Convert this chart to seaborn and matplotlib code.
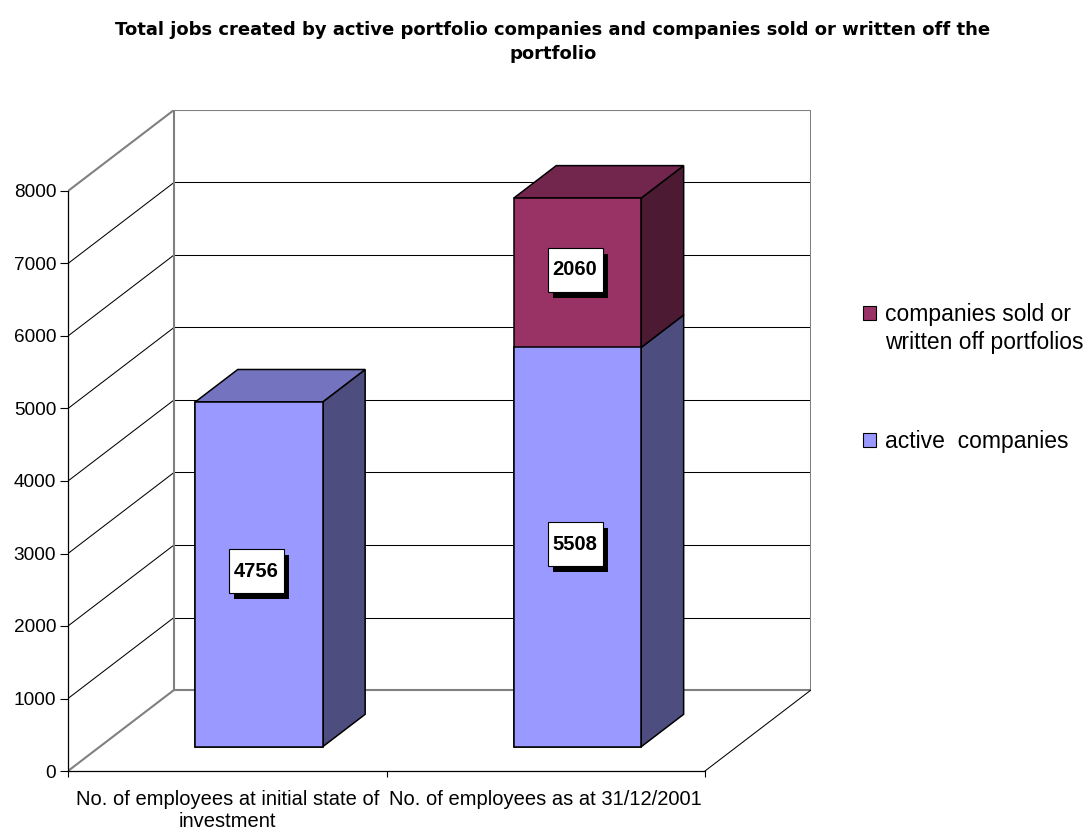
import matplotlib
matplotlib.use("Agg")
import matplotlib.pyplot as plt
import matplotlib.transforms as mtransforms
from matplotlib.patches import Polygon, Rectangle, Patch
import pandas as pd
import seaborn as sns

# ---- data -------------------------------------------------------------
categories = ["No. of employees at initial state of\ninvestment",
              "No. of employees as at 31/12/2001"]
active = [4756, 5508]
sold = [0, 2060]
series_labels = ["companies sold or\nwritten off portfolios", "active  companies"]
y_ticks = [0, 1000, 2000, 3000, 4000, 5000, 6000, 7000, 8000]
title = ("Total jobs created by active portfolio companies and companies sold or written off the\n"
         "portfolio")

# ---- styling ----------------------------------------------------------
BLUE, BLUE_TOP, BLUE_SIDE = "#9999FF", "#7373BF", "#4D4D80"
MAROON, MAROON_TOP, MAROON_SIDE = "#993366", "#73264D", "#4D1A33"
WALL = "#808080"

W, H, DPI = 1087, 834, 100
sns.set_theme(style="ticks")
plt.rcParams["font.family"] = ["Liberation Sans", "DejaVu Sans"]
plt.rcParams.update({"text.color": "black", "axes.labelcolor": "black",
                     "xtick.color": "black", "ytick.color": "black"})

# geometry of the pseudo-3D box (pixels)
X0, X1 = 68, 705          # front floor edge
Y0, Y8 = 771, 191         # front value 0 and value 8000
DEPTH_PX = (106, 81)      # shift of the back wall
px_per_cat = (X1 - X0) / len(categories)
px_per_val = (Y0 - Y8) / y_ticks[-1]
DX = DEPTH_PX[0] / px_per_cat
DY = DEPTH_PX[1] / px_per_val
F, B = 0.3, 0.7           # bar front / back depth fractions
BAR_W = 0.4

fig = plt.figure(figsize=(W / DPI, H / DPI), dpi=DPI)
fig.patch.set_facecolor("white")
ax_left, ax_right = X0, X1 + DEPTH_PX[0]
ax_top = Y8 - DEPTH_PX[1]
ax = fig.add_axes([ax_left / W, 1 - Y0 / H, (ax_right - ax_left) / W, (Y0 - ax_top) / H])
ax.set_facecolor("none")

df = pd.DataFrame({"category": categories, "active": active, "sold": sold})
df["total"] = df["active"] + df["sold"]

# front faces: totals in maroon, active companies drawn over them in blue
sns.barplot(data=df, x="category", y="total", color=MAROON, saturation=1,
            width=BAR_W, edgecolor="black", linewidth=1.1, ax=ax)
sns.barplot(data=df, x="category", y="active", color=BLUE, saturation=1,
            width=BAR_W, edgecolor="black", linewidth=1.1, ax=ax)

front = mtransforms.Affine2D().translate(F * DX, F * DY) + ax.transData
for p in ax.patches:
    p.set_transform(front)
    p.set_zorder(5)

xmin, xmax = -0.5, len(categories) - 0.5
ymax = y_ticks[-1]
ax.set_xlim(xmin, xmax + DX)
ax.set_ylim(0, ymax + DY)

# ---- walls and gridlines ----------------------------------------------
for v in y_ticks:
    edge = v in (0, ymax)
    col, lw = (WALL, 1.5) if edge else ("black", 0.75)
    # side wall
    ax.plot([xmin, xmin + DX], [v, v + DY], color=col, lw=lw, zorder=2,
            solid_capstyle="butt")
    # back wall
    ax.plot([xmin + DX, xmax + DX], [v + DY, v + DY], color=col, lw=lw, zorder=2 if edge else 1)
ax.plot([xmin + DX, xmin + DX], [DY, ymax + DY], color=WALL, lw=1.5, zorder=2)
ax.plot([xmax + DX, xmax + DX], [DY, ymax + DY], color=WALL, lw=1.5, zorder=2)
ax.plot([xmax, xmax + DX], [0, DY], color="black", lw=0.75, zorder=2)

# ---- side and top faces of the bars -------------------------------------
n = len(categories)
front_patches = ax.patches[:n]
for i, p in enumerate(front_patches):
    xl = p.get_x()
    xr = xl + p.get_width()
    segs = [(0, active[i], BLUE_SIDE, BLUE_TOP),
            (active[i], active[i] + sold[i], MAROON_SIDE, MAROON_TOP)]
    segs = [s for s in segs if s[1] > s[0]]
    for y0, y1, side_c, _ in segs:
        side = Polygon([(xr + F * DX, y0 + F * DY), (xr + F * DX, y1 + F * DY),
                        (xr + B * DX, y1 + B * DY), (xr + B * DX, y0 + B * DY)],
                       closed=True, facecolor=side_c, edgecolor="black", lw=1.1, zorder=4)
        ax.add_patch(side)
    top = segs[-1][1]
    top_c = segs[-1][3]
    ax.add_patch(Polygon([(xl + F * DX, top + F * DY), (xr + F * DX, top + F * DY),
                          (xr + B * DX, top + B * DY), (xl + B * DX, top + B * DY)],
                         closed=True, facecolor=top_c, edgecolor="black", lw=1.1, zorder=4))

    # value labels with a drop shadow
    for y0, y1, _, _ in segs:
        cx, cy = i, (y0 + y1) / 2
        sh_x, sh_y = 0.05, -0.06
        bw, bh = 0.55, 0.44
        base = mtransforms.ScaledTranslation(cx, cy, front)
        box_tr = fig.dpi_scale_trans + base
        ax.add_patch(Rectangle((-bw / 2 - sh_x / 2 + sh_x, -bh / 2 - sh_y / 2 + sh_y), bw, bh,
                               transform=box_tr, facecolor="black", edgecolor="none", zorder=6))
        ax.add_patch(Rectangle((-bw / 2 - sh_x / 2, -bh / 2 - sh_y / 2), bw, bh,
                               transform=box_tr, facecolor="white", edgecolor="black",
                               lw=0.8, zorder=7))
        ax.text(-sh_x / 2, -sh_y / 2, f"{y1 - y0}", transform=box_tr, ha="center",
                va="center", fontsize=14.5, fontweight="bold", color="black", zorder=8)

# ---- axes ---------------------------------------------------------------
for s in ("top", "right"):
    ax.spines[s].set_visible(False)
for s in ("left", "bottom"):
    ax.spines[s].set_color("black")
    ax.spines[s].set_linewidth(0.9)
ax.spines["left"].set_bounds(0, ymax)
ax.spines["bottom"].set_bounds(xmin, xmax)
ax.set_yticks(y_ticks)
ax.set_yticklabels([str(v) for v in y_ticks], fontsize=13.7, color="black")
ax.tick_params(axis="y", length=5.5, width=0.8, color="black", pad=3, left=True)
ax.set_xticks(range(n))
ax.set_xticklabels(categories, fontsize=14.5, linespacing=1.15, color="black")
ax.set_xticks([xmin + k for k in range(n + 1)], minor=True)
ax.tick_params(axis="x", which="major", length=0, pad=14)
ax.tick_params(axis="x", which="minor", length=4.5, width=0.8, color="black", bottom=True)
ax.set_xlabel("")
ax.set_ylabel("")
ax.grid(False)

fig.text(553 / W, 1 - 21 / H, title, ha="center", va="top", fontsize=13,
         fontweight="bold", linespacing=1.4, family=["DejaVu Sans"], color="black")

# ---- legend ---------------------------------------------------------------
leg_kw = dict(frameon=False, fontsize=16.5, handlelength=0.55, handleheight=0.55,
              handletextpad=0.4, borderpad=0, borderaxespad=0, loc="upper left",
              bbox_transform=fig.transFigure, labelspacing=0.2)
top_lines = series_labels[0].split("\n")
leg1 = fig.legend(handles=[Patch(facecolor=MAROON, edgecolor="black", lw=0.8),
                           Patch(facecolor="none", edgecolor="none")],
                  labels=top_lines, bbox_to_anchor=(863 / W, 1 - 303 / H), **leg_kw)
leg2 = fig.legend(handles=[Patch(facecolor=BLUE, edgecolor="black", lw=0.8)],
                  labels=[series_labels[1]], bbox_to_anchor=(863 / W, 1 - 430 / H), **leg_kw)
for lg in (leg1, leg2):
    for t in lg.get_texts():
        t.set_color("black")

fig.savefig("out.png", dpi=DPI, facecolor="white")
